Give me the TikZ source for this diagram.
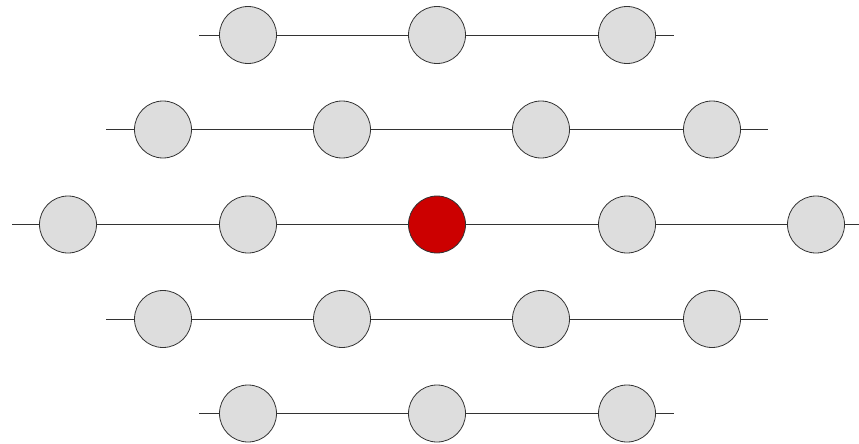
\documentclass[tikz,border=0pt]{standalone}
\usepackage{tikz}
\usetikzlibrary{positioning}
\definecolor{dotfill}{RGB}{221,221,221}
\definecolor{hubred}{RGB}{204,0,0}
\colorlet{dotdraw}{black!80}
\colorlet{linkdraw}{black!80}

\begin{document}
\begin{tikzpicture}[x=1pt,y=-1pt,
    dot/.style={circle,draw=dotdraw,fill=dotfill,minimum size=57pt,inner sep=0pt,line width=.8pt},
    hub/.style={dot,fill=hubred},
    link/.style={draw=linkdraw,line width=.9pt}]
    \useasboundingbox (0,0) rectangle (859,444);
    % short rows
    \foreach \y/\r in {35/a,413.5/e}{
      \coordinate (\r0) at (199,\y);
      \coordinate (\r4) at (674,\y);
      \foreach \x [count=\i] in {248,437,627} \node[dot] (\r\i) at (\x,\y) {};
      \draw[link] (\r0)--(\r1)--(\r2)--(\r3)--(\r4);
    }
    % middle-length rows
    \foreach \y/\r in {129.5/b,319/d}{
      \coordinate (\r0) at (106,\y);
      \coordinate (\r5) at (768,\y);
      \foreach \x [count=\i] in {163,342,541,712} \node[dot] (\r\i) at (\x,\y) {};
      \draw[link] (\r0)--(\r1)--(\r2)--(\r3)--(\r4)--(\r5);
    }
    % centre row
    \coordinate (c0) at (12,224.5);
    \coordinate (c6) at (859,224.5);
    \node[dot] (c1) at (68,224.5) {};
    \node[dot] (c2) at (248,224.5) {};
    \node[hub] (c3) at (437,224.5) {};
    \node[dot] (c4) at (627,224.5) {};
    \node[dot] (c5) at (816,224.5) {};
    \draw[link] (c0)--(c1)--(c2)--(c3)--(c4)--(c5)--(c6);
  \end{tikzpicture}
\end{document}
